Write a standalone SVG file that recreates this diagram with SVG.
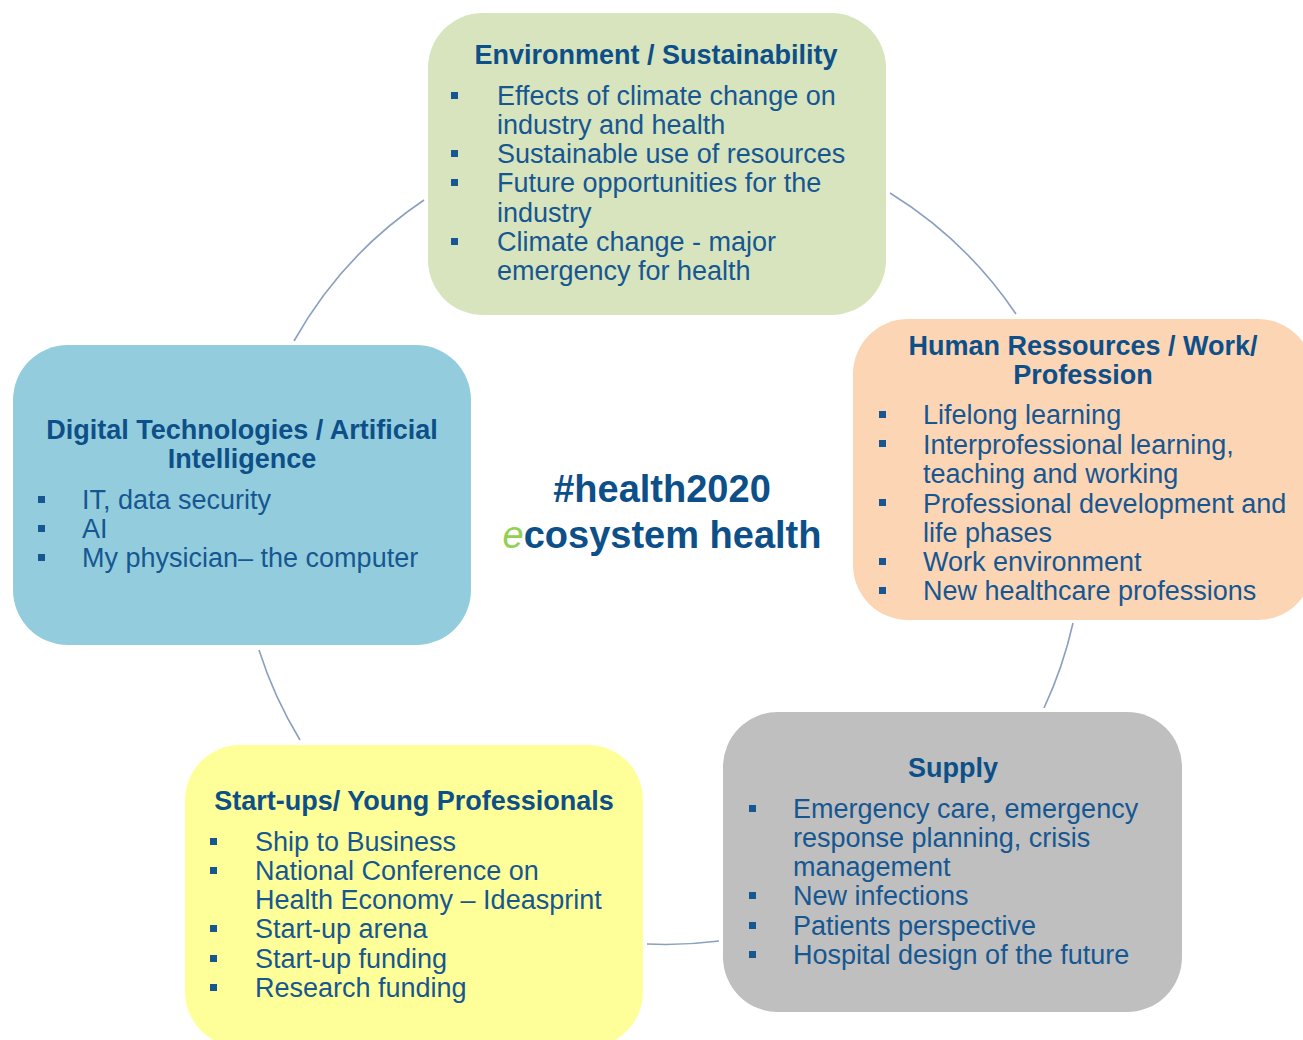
<svg xmlns="http://www.w3.org/2000/svg" width="1303" height="1040" viewBox="0 0 1303 1040">
<style>
.box{stroke:none}
.t{font-family:"Liberation Sans",Arial,sans-serif;font-size:27px;font-weight:bold;fill:#0d4f88;text-anchor:middle}
.x{font-family:"Liberation Sans",Arial,sans-serif;font-size:27px;fill:#165792}
.b{fill:#165792}
.c{fill:none;stroke:#8aa0c0;stroke-width:1.6}
.h{font-family:"Liberation Sans",Arial,sans-serif;font-size:38px;font-weight:bold;fill:#0d4f88;text-anchor:middle}
</style>
<rect width="1303" height="1040" fill="#ffffff"/>
<g id="connectors">
<path class="c" d="M424 200 A415 415 0 0 0 294 341"/>
<path class="c" d="M890 193 A415 415 0 0 1 1016 314"/>
<path class="c" d="M1073 623 A415 415 0 0 1 1044 708"/>
<path class="c" d="M719 941 A415 415 0 0 1 647 944"/>
<path class="c" d="M300 740 A415 415 0 0 1 259 650"/>
</g>
<g id="env">
<rect class="box" x="428" y="13" width="458" height="302" rx="55" fill="#d7e4bd"/>
<text class="t" x="656" y="64">Environment / Sustainability</text>
<rect class="b" x="451" y="92" width="7" height="7"/>
<rect class="b" x="451" y="150" width="7" height="7"/>
<rect class="b" x="451" y="179" width="7" height="7"/>
<rect class="b" x="451" y="238" width="7" height="7"/>
<text class="x" x="497" y="105">Effects of climate change on</text>
<text class="x" x="497" y="134">industry and health</text>
<text class="x" x="497" y="163">Sustainable use of resources</text>
<text class="x" x="497" y="192">Future opportunities for the</text>
<text class="x" x="497" y="222">industry</text>
<text class="x" x="497" y="251">Climate change - major</text>
<text class="x" x="497" y="280">emergency for health</text>
</g>
<g id="hr">
<rect class="box" x="853" y="319" width="460" height="301" rx="55" fill="#fcd5b5"/>
<text class="t" x="1083" y="355">Human Ressources / Work/</text>
<text class="t" x="1083" y="384">Profession</text>
<rect class="b" x="879" y="411" width="7" height="7"/>
<rect class="b" x="879" y="440" width="7" height="7"/>
<rect class="b" x="879" y="499" width="7" height="7"/>
<rect class="b" x="879" y="558" width="7" height="7"/>
<rect class="b" x="879" y="587" width="7" height="7"/>
<text class="x" x="923" y="424">Lifelong learning</text>
<text class="x" x="923" y="454">Interprofessional learning,</text>
<text class="x" x="923" y="483">teaching and working</text>
<text class="x" x="923" y="513">Professional development and</text>
<text class="x" x="923" y="542">life phases</text>
<text class="x" x="923" y="571">Work environment</text>
<text class="x" x="923" y="600">New healthcare professions</text>
</g>
<g id="digital">
<rect class="box" x="13" y="345" width="458" height="300" rx="55" fill="#93cddd"/>
<text class="t" x="242" y="439">Digital Technologies / Artificial</text>
<text class="t" x="242" y="468">Intelligence</text>
<rect class="b" x="38" y="496" width="7" height="7"/>
<rect class="b" x="38" y="525" width="7" height="7"/>
<rect class="b" x="38" y="554" width="7" height="7"/>
<text class="x" x="82" y="509">IT, data security</text>
<text class="x" x="82" y="538">AI</text>
<text class="x" x="82" y="567">My physician– the computer</text>
</g>
<g id="startups">
<rect class="box" x="185" y="745" width="458" height="302" rx="55" fill="#ffff99"/>
<text class="t" x="414" y="810">Start-ups/ Young Professionals</text>
<rect class="b" x="210" y="838" width="7" height="7"/>
<rect class="b" x="210" y="867" width="7" height="7"/>
<rect class="b" x="210" y="925" width="7" height="7"/>
<rect class="b" x="210" y="955" width="7" height="7"/>
<rect class="b" x="210" y="984" width="7" height="7"/>
<text class="x" x="255" y="851">Ship to Business</text>
<text class="x" x="255" y="880">National Conference on</text>
<text class="x" x="255" y="909">Health Economy – Ideasprint</text>
<text class="x" x="255" y="938">Start-up arena</text>
<text class="x" x="255" y="968">Start-up funding</text>
<text class="x" x="255" y="997">Research funding</text>
</g>
<g id="supply">
<rect class="box" x="723" y="712" width="459" height="300" rx="55" fill="#bfbfbf"/>
<text class="t" x="953" y="777">Supply</text>
<rect class="b" x="749" y="805" width="7" height="7"/>
<rect class="b" x="749" y="892" width="7" height="7"/>
<rect class="b" x="749" y="922" width="7" height="7"/>
<rect class="b" x="749" y="951" width="7" height="7"/>
<text class="x" x="793" y="818">Emergency care, emergency</text>
<text class="x" x="793" y="847">response planning, crisis</text>
<text class="x" x="793" y="876">management</text>
<text class="x" x="793" y="905">New infections</text>
<text class="x" x="793" y="935">Patients perspective</text>
<text class="x" x="793" y="964">Hospital design of the future</text>
</g>
<g id="center">
<text class="h" x="662" y="502">#health2020</text>
<text class="h" x="662" y="548"><tspan fill="#92d050" font-weight="normal" font-style="italic">e</tspan>cosystem health</text>
</g>
</svg>
